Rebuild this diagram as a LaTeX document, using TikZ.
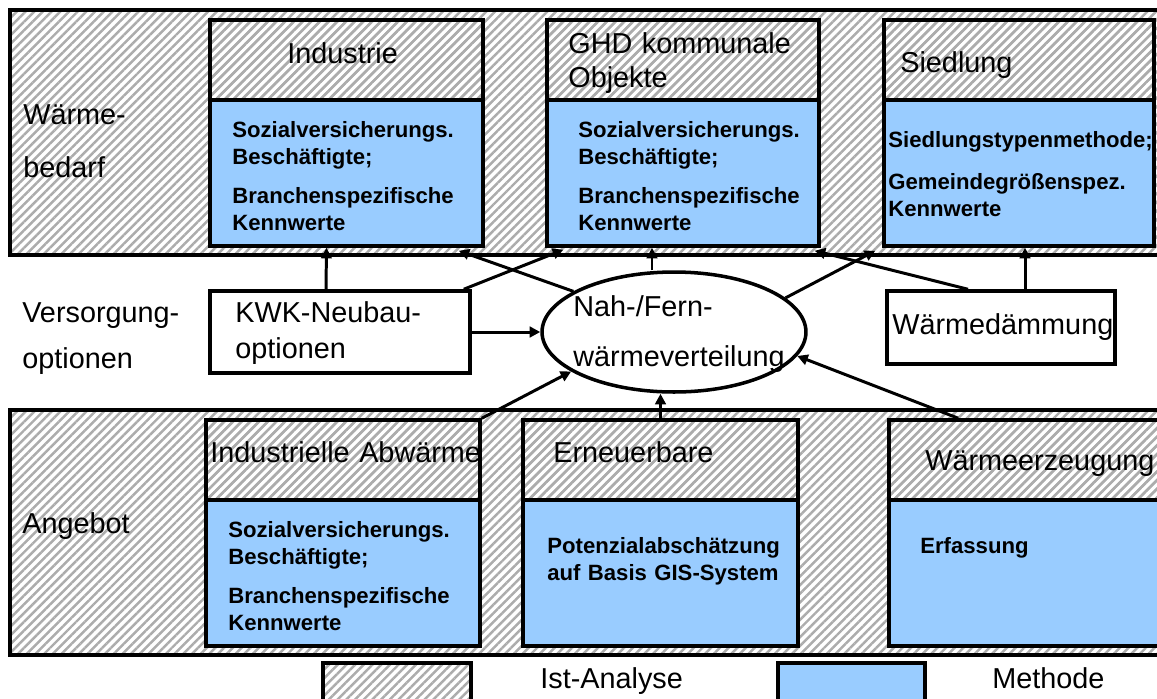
\documentclass[tikz,border=0pt]{standalone}
\usepackage{fontspec}
\setmainfont{Liberation Sans}
\usetikzlibrary{arrows.meta,shapes.geometric,patterns.meta,fit,calc}
\definecolor{methblau}{RGB}{153,204,255}
\tikzset{
  schraff/.style={pattern={Lines[angle=45,distance=3.5pt,line width=1.4pt]},pattern color=gray!65},
  band/.style={schraff,draw,line width=2pt},
  kopf/.style={schraff,draw,line width=2pt,inner sep=0pt},
  meth/.style={fill=methblau,draw,line width=2pt,inner sep=0pt},
  kasten/.style={fill=white,draw,line width=2pt,inner sep=0pt},
  pfeil/.style={line width=1.7pt,-{Triangle[length=6pt,width=6pt]}},
  titel/.style={font=\fontsize{16.4}{19.4}\selectfont,anchor=base west,inner sep=0pt,align=left,text width=6cm},
  fett/.style={font=\fontsize{12.6}{15.4}\selectfont\bfseries,anchor=base west,inner sep=0pt,align=left,text width=6cm},
}
\begin{document}
\begin{tikzpicture}[x=0.02cm,y=-0.02cm]
  \useasboundingbox (0,0) rectangle (1157,698);
  \clip (0,0) rectangle (1157,698);
  % Baender
  \draw[band] (10,10) rectangle (1175,255);
  \draw[band] (10,410) rectangle (1175,655);
  % Waermebedarf
  \node[kopf, fit={(210,20) (483,100)}] (ind-k) {};
  \node[meth, fit={(210,100) (483,246)}] (ind-m) {};
  \node[kopf, fit={(547,20) (819,100)}] (ghd-k) {};
  \node[meth, fit={(547,100) (819,246)}] (ghd-m) {};
  \node[kopf, fit={(884,20) (1154,100)}] (sied-k) {};
  \node[meth, fit={(884,100) (1154,246)}] (sied-m) {};
  \node[titel] (waerme) at (23,124) {Wärme-\\[11pt]bedarf};
  \node[titel] (ind-t) at (287,63) {Industrie};
  \node[titel] (ghd-t) at (568,53) {GHD kommunale\\Objekte};
  \node[titel] (sied-t) at (900,72) {Siedlung};
  \node[fett] (ind-b) at (232,137) {Sozialversicherungs.\\Beschäftigte;\\[6.8pt]Branchenspezifische\\Kennwerte};
  \node[fett] (ghd-b) at (578,137) {Sozialversicherungs.\\Beschäftigte;\\[6.8pt]Branchenspezifische\\Kennwerte};
  \node[fett] (sied-b) at (888,147) {Siedlungstypenmethode;\\[8.5pt]Gemeindegrößenspez.\\Kennwerte};
  % Versorgungsoptionen
  \node[kasten, fit={(210,291) (470,373)}] (kwk) {};
  \node[draw, ellipse, fill=white, line width=2pt, inner sep=0pt,
        minimum width=5.28cm, minimum height=2.4cm] (dist) at (674,332) {};
  \node[kasten, fit={(887,291) (1115,364)}] (daemm) {};
  \node[titel] (vers) at (22,322) {Versorgung-\\[6.9pt]optionen};
  \node[titel] (kwk-t) at (235,322) {KWK-Neubau-\\[1.3pt]optionen};
  \node[titel] (dist-t) at (573,316) {Nah-/Fern-\\[9.3pt]wärmeverteilung};
  \node[titel] (daemm-t) at (892,334) {Wärmedämmung};
  % Angebot
  \node[kopf, fit={(206,420) (480,500)}] (abw-k) {};
  \node[meth, fit={(206,500) (480,646)}] (abw-m) {};
  \node[kopf, fit={(523,420) (798,500)}] (ern-k) {};
  \node[meth, fit={(523,500) (798,646)}] (ern-m) {};
  \node[kopf, fit={(889,420) (1170,500)}] (erz-k) {};
  \node[meth, fit={(889,500) (1170,646)}] (erz-m) {};
  \node[titel] (angebot) at (22,533) {Angebot};
  \node[titel] (abw-t) at (210,462) {Industrielle Abwärme};
  \node[titel] (ern-t) at (553,462) {Erneuerbare};
  \node[titel] (erz-t) at (925,470) {Wärmeerzeugung};
  \node[fett] (abw-b) at (228,537) {Sozialversicherungs.\\Beschäftigte;\\[6.8pt]Branchenspezifische\\Kennwerte};
  \node[fett] (ern-b) at (547,553) {Potenzialabschätzung\\auf Basis GIS-System};
  \node[fett] (erz-b) at (920,553) {Erfassung};
  % Legende
  \node[kopf, fit={(323,663) (471,712)}] (leg-ist) {};
  \node[titel] (leg-ist-t) at (540,688) {Ist-Analyse};
  \node[meth, fit={(778,663) (925,712)}] (leg-meth) {};
  \node[titel] (leg-meth-t) at (992,688) {Methode};
  % Pfeile
  \draw[pfeil] ($(kwk.north)+(-14,0)$) -- ($(ind-m.south)+(-20,0)$);
  \draw[pfeil] ($(kwk.north east)+(-8,0)$) -- ($(ghd-m.south west)+(18,2)$);
  \draw[pfeil] (dist.158) -- ($(ind-m.south east)+(-26,3)$);
  \draw[pfeil] ($(dist.north)+(-22,0)$) -- ($(ghd-m.south)+(-31,0)$);
  \draw[pfeil] (dist.17) -- ($(sied-m.south west)+(-7,3)$);
  \draw[pfeil] ($(daemm.north)+(-33,0)$) -- ($(ghd-m.south east)+(-6,3)$);
  \draw[pfeil] ($(daemm.north)+(24,0)$) -- ($(sied-m.south)+(6,0)$);
  \draw[pfeil] (kwk.east) -- (dist.west);
  \draw[pfeil] (abw-k.north east) -- (dist.201);
  \draw[pfeil] (ern-k.north) -- (ern-k.north |- dist.south);
  \draw[pfeil] ($(erz-k.north west)+(71,0)$) -- (dist.-11);
\end{tikzpicture}
\end{document}
